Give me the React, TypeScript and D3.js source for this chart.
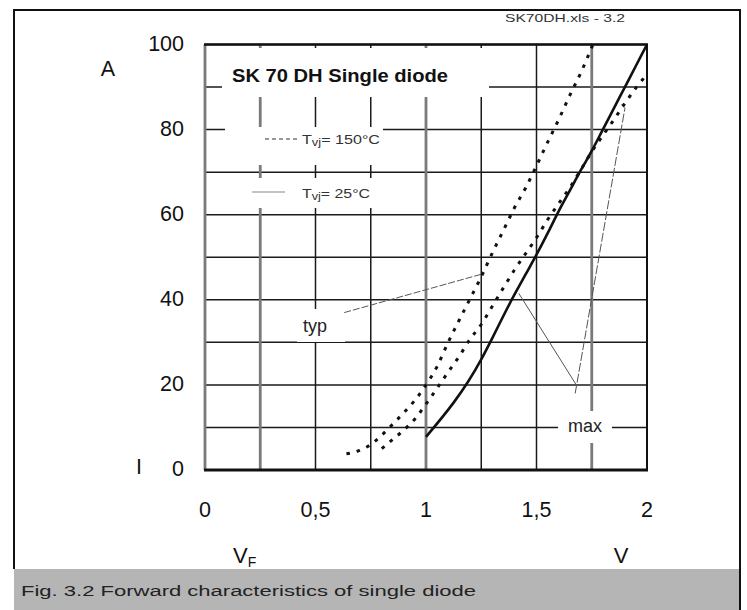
import React from 'react'
import * as d3 from 'd3'

// axis ticks
const xTickValues = [0, 0.5, 1, 1.5, 2]
const xTickLabels = ['0', '0,5', '1', '1,5', '2']
const yTickValues = [0, 20, 40, 60, 80, 100]
const yTickLabels = ['0', '20', '40', '60', '80', '100']

// Tvj = 150°C, typ (left dotted curve)
const typ150V = [0.64, 0.70, 0.75, 0.80, 0.85, 0.90, 0.95, 1.00, 1.05, 1.10, 1.15, 1.20, 1.25, 1.30, 1.35, 1.40, 1.45, 1.50, 1.55, 1.60, 1.65, 1.70, 1.755]
const typ150I = [3.8, 4.6, 6.0, 8.2, 10.8, 13.5, 16.4, 20.0, 24.3, 30.0, 35.2, 40.3, 45.4, 51.0, 56.3, 61.6, 66.2, 71.5, 77.0, 82.3, 88.0, 93.3, 100]

// Tvj = 150°C, max (right dotted curve)
const max150V = [0.80, 0.85, 0.90, 0.95, 1.00, 1.05, 1.10, 1.15, 1.20, 1.25, 1.30, 1.35, 1.40, 1.45, 1.50, 1.55, 1.60, 1.65, 1.70, 1.75, 1.80, 1.85, 1.90, 1.95, 2.00]
const max150I = [5.0, 7.2, 9.4, 12.0, 15.5, 19.2, 23.0, 26.7, 30.8, 34.2, 38.5, 42.8, 47.0, 50.8, 54.6, 58.8, 62.6, 66.3, 70.5, 74.8, 78.6, 82.3, 86.2, 89.8, 93.0]

// Tvj = 25°C (solid curve)
const t25V = [1.00, 1.25, 1.30, 1.35, 1.40, 1.45, 1.50, 1.55, 1.60, 1.65, 1.70, 1.75, 1.80, 1.85, 1.90, 1.95, 2.00]
const t25I = [7.8, 26.0, 31.0, 36.2, 41.2, 45.9, 50.6, 55.6, 60.8, 65.6, 70.4, 75.0, 80.0, 85.0, 90.0, 95.0, 100]

// annotation leaders [V, I]
const typLeader: [number, number][] = [[0.63, 37.0], [1.25, 46.0]]
const maxLeaderA: [number, number][] = [[1.68, 20.0], [1.42, 41.5]]
const maxLeaderB: [number, number][] = [[1.675, 18.0], [1.9, 85.0], [1.885, 86.0]]

const W = 747
const H = 610

const x = d3.scaleLinear().domain([0, 2]).range([205, 647])
const y = d3.scaleLinear().domain([0, 100]).range([470, 44.5])

const vGrid = d3.range(0, 2.0001, 0.25)
const iGrid = d3.range(0, 100.001, 10)
// lines that came out grey and heavier in the scan
const greyV = [0, 0.25, 1, 1.75]

const font = 'Liberation Sans, Arial, sans-serif'

const zip = (vs: number[], is: number[]) => vs.map((v, i) => [v, is[i]] as [number, number])

export default function App() {
  const curve = d3.line<[number, number]>()
    .x(d => x(d[0]))
    .y(d => y(d[1]))
    .curve(d3.curveMonotoneX)
  const straight = d3.line<[number, number]>()
    .x(d => x(d[0]))
    .y(d => y(d[1]))

  return (
    <svg width={W} height={H} style={{ position: 'absolute', left: 0, top: 0, background: '#fff' }} fontFamily={font}>
      {/* outer frame and caption band */}
      <rect x={14} y={569} width={726} height={41} fill="#b5b5b5" />
      <path d="M14,569 V10 H740 V610" fill="none" stroke="#111" strokeWidth={2} />
      <text x={505} y={22} fontSize={11} fill="#333" textLength={120} lengthAdjust="spacingAndGlyphs">SK70DH.xls - 3.2</text>
      <text x={21} y={596} fontSize={15.5} fill="#222" textLength={455} lengthAdjust="spacingAndGlyphs">Fig. 3.2 Forward characteristics of single diode</text>

      {/* grid */}
      {iGrid.map(v => (
        <line key={'h' + v} x1={x(0)} x2={x(2)} y1={y(v)} y2={y(v)} stroke="#1a1a1a" strokeWidth={1.5} />
      ))}
      {vGrid.map(v => {
        const grey = greyV.some(g => Math.abs(g - v) < 1e-6)
        return (
          <line key={'v' + v} x1={x(v)} x2={x(v)} y1={y(0)} y2={y(100)}
            stroke={grey ? '#7a7a7a' : '#1a1a1a'} strokeWidth={grey ? 2.8 : 1.5} />
        )
      })}
      <line x1={x(0) - 1} x2={x(2) + 1} y1={y(0)} y2={y(0)} stroke="#111" strokeWidth={3} />
      <line x1={x(0) - 1} x2={x(2) + 1} y1={y(100)} y2={y(100)} stroke="#111" strokeWidth={2.5} />
      <line x1={x(2)} x2={x(2)} y1={y(0)} y2={y(100)} stroke="#111" strokeWidth={2} />

      {/* label boxes breaking the grid */}
      <rect x={222} y={48} width={267} height={49} fill="#fff" />
      <rect x={225} y={127} width={158} height={38} fill="#fff" />
      <rect x={225} y={178} width={158} height={30} fill="#fff" />
      <rect x={297} y={309} width={48} height={33} fill="#fff" />
      <rect x={558} y={411} width={54} height={32} fill="#fff" />

      {/* leaders */}
      <path d={straight(typLeader) ?? ''} fill="none" stroke="#555" strokeWidth={1} strokeDasharray="7 2" />
      <path d={straight(maxLeaderA) ?? ''} fill="none" stroke="#555" strokeWidth={1} />
      <path d={straight(maxLeaderB) ?? ''} fill="none" stroke="#555" strokeWidth={1} strokeDasharray="9 2" />

      {/* curves */}
      <path d={curve(zip(typ150V, typ150I)) ?? ''} fill="none" stroke="#111" strokeWidth={3} strokeDasharray="3.5 7" />
      <path d={curve(zip(max150V, max150I)) ?? ''} fill="none" stroke="#111" strokeWidth={3} strokeDasharray="3.5 7" />
      <path d={curve(zip(t25V, t25I)) ?? ''} fill="none" stroke="#111" strokeWidth={2.6} strokeLinejoin="round" />

      {/* title and legend */}
      <text x={232} y={82} fontSize={18.5} fontWeight="bold" fill="#111" textLength={216} lengthAdjust="spacingAndGlyphs">SK 70 DH Single diode</text>
      <line x1={265} x2={297} y1={139} y2={139} stroke="#333" strokeWidth={1.2} strokeDasharray="4 3" />
      <text x={302} y={144} fontSize={12.5} fill="#333" textLength={78} lengthAdjust="spacingAndGlyphs">
        T<tspan fontSize={10} dy={1.5}>vj</tspan><tspan dy={-1.5}>= 150°C</tspan>
      </text>
      <line x1={252} x2={285} y1={192} y2={192} stroke="#888" strokeWidth={1.2} />
      <text x={302} y={198} fontSize={12.5} fill="#333" textLength={68} lengthAdjust="spacingAndGlyphs">
        T<tspan fontSize={10} dy={1.5}>vj</tspan><tspan dy={-1.5}>= 25°C</tspan>
      </text>
      <text x={315} y={332} fontSize={18} fill="#222" textAnchor="middle">typ</text>
      <text x={585} y={432} fontSize={18} fill="#222" textAnchor="middle">max</text>

      {/* axis labels */}
      {yTickValues.map((v, i) => (
        <text key={'yl' + v} x={184} y={y(v) - 1} fontSize={21.5} fill="#111" textAnchor="end" dominantBaseline="central">{yTickLabels[i]}</text>
      ))}
      {xTickValues.map((v, i) => (
        <text key={'xl' + v} x={x(v)} y={510} fontSize={21.5} fill="#111" textAnchor="middle" dominantBaseline="central">{xTickLabels[i]}</text>
      ))}
      <text x={108} y={69} fontSize={21.5} fill="#111" textAnchor="middle" dominantBaseline="central">A</text>
      <text x={139} y={467} fontSize={21.5} fill="#111" textAnchor="middle" dominantBaseline="central">I</text>
      <text x={233} y={563} fontSize={22} fill="#111">V<tspan fontSize={14} dy={4}>F</tspan></text>
      <text x={621} y={563} fontSize={22} fill="#111" textAnchor="middle">V</text>
    </svg>
  )
}
